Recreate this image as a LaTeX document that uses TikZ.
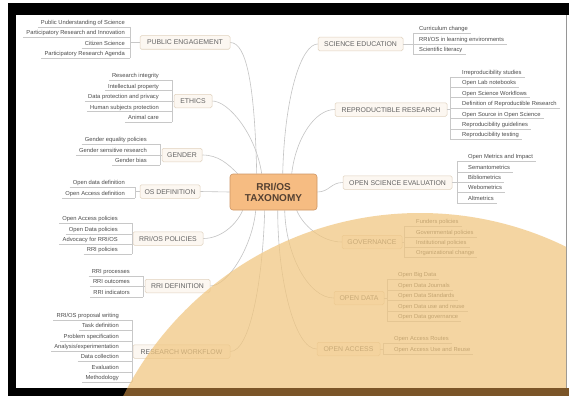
\documentclass[tikz,border=0pt]{standalone}
\usepackage{fontspec}
\setmainfont{Liberation Sans}
\usetikzlibrary{calc}
\pgfdeclarelayer{bg}
\pgfdeclarelayer{links}
\pgfdeclarelayer{top}
\pgfsetlayers{bg,links,main,top}

\definecolor{linkc}{RGB}{196,196,196}
\definecolor{ulc}{RGB}{200,200,200}
\definecolor{boxfill}{RGB}{252,247,241}
\definecolor{boxdraw}{RGB}{224,210,190}
\definecolor{boxtext}{RGB}{100,100,100}
\definecolor{leaftext}{RGB}{75,75,75}
\definecolor{corefill}{RGB}{246,188,130}
\definecolor{coredraw}{RGB}{206,150,100}
\definecolor{coretext}{RGB}{85,65,50}
\definecolor{disk}{RGB}{241,198,127}
\definecolor{band}{RGB}{123,85,40}
\definecolor{edgec}{RGB}{150,150,150}

\tikzset{
  leafl/.style={anchor=south east, inner sep=0pt, text height=4.4pt, text depth=2.2pt,
    font=\fontsize{5.8}{6}\selectfont, text=leaftext},
  leafr/.style={leafl, anchor=south west},
  ul/.style={draw=ulc, line width=0.5pt},
  link/.style={draw=linkc, line width=0.6pt},
  cat/.style={draw=boxdraw, fill=boxfill, rounded corners=1.5pt, line width=0.5pt,
    font=\fontsize{6.9}{7}\selectfont, text=boxtext, inner xsep=0pt, inner ysep=0pt,
    minimum height=13.5pt, text height=5pt, text depth=0pt},
  core/.style={draw=coredraw, fill=corefill, rounded corners=3pt, line width=0.6pt,
    font=\fontsize{10}{11}\selectfont\bfseries, text=coretext, align=center,
    minimum width=87pt, minimum height=36pt, inner sep=0pt}
}

\newcommand{\leafL}[5]{%
  \node[leafl] (#1) at (#2-#3,#4) {#5};
  \draw[ul] ($(#1.south west)+(-3,0)$) -- ($(#1.south east)+(#3,0)$);
}
\newcommand{\leafR}[5]{%
  \node[leafr] (#1) at (#2+#3,#4) {#5};
  \draw[ul] ($(#1.south west)+(-#3,0)$) -- ($(#1.south east)+(3,0)$);
}

\begin{document}
\begin{tikzpicture}[x=1pt,y=-1pt]
\useasboundingbox (0,0) rectangle (569,396);
\begin{pgfonlayer}{bg}
  \fill[white] (0,0) rectangle (569,396);
  \fill[black] (8,3) rectangle (569,15);
  \fill[black] (8,3) rectangle (16,396);
  \draw[edgec, line width=0.8pt] (566,15) -- (566,388);
\end{pgfonlayer}

% central node
\node[core] (c) at (273.5,192) {RRI/OS\\TAXONOMY};

% left categories
\node[cat, minimum width=90pt] (pe) at (185,42.5) {PUBLIC ENGAGEMENT};
\node[cat, minimum width=38pt] (et) at (193,101) {ETHICS};
\node[cat, minimum width=40pt] (ge) at (182,155) {GENDER};
\node[cat, minimum width=60pt] (od) at (170,191.5) {OS DEFINITION};
\node[cat, minimum width=70pt] (rp) at (168,238.5) {RRI/OS POLICIES};
\node[cat, minimum width=65pt] (rd) at (177.5,286) {RRI DEFINITION};
\node[cat, minimum width=97pt] (rw) at (181.5,351.5) {RESEARCH WORKFLOW};

% right categories
\node[cat, minimum width=85pt] (se) at (360.5,44) {SCIENCE EDUCATION};
\node[cat, minimum width=112pt] (rr) at (391,109.5) {REPRODUCTIBLE RESEARCH};
\node[cat, minimum width=109pt] (ev) at (397.5,182.5) {OPEN SCIENCE EVALUATION};
\node[cat, minimum width=60pt] (gv) at (372,242) {GOVERNANCE};
\node[cat, minimum width=50pt] (oda) at (359,298) {OPEN DATA};
\node[cat, minimum width=63pt] (oa) at (348.5,349) {OPEN ACCESS};

% left leaves
\leafL{pe1}{130}{5}{26.8}{Public Understanding of Science}
\leafL{pe2}{130}{5}{37.3}{Participatory Research and Innovation}
\leafL{pe3}{130}{5}{47.8}{Citizen Science}
\leafL{pe4}{130}{5}{58.3}{Participatory Research Agenda}

\leafL{et1}{172}{13}{80.3}{Research integrity}
\leafL{et2}{172}{13}{90.7}{Intellectual property}
\leafL{et3}{172}{13}{101.1}{Data protection and privacy}
\leafL{et4}{172}{13}{111.5}{Human subjects protection}
\leafL{et5}{172}{13}{121.9}{Animal care}

\leafL{ge1}{160}{13}{144.3}{Gender equality policies}
\leafL{ge2}{160}{13}{154.8}{Gender sensitive research}
\leafL{ge3}{160}{13}{165.3}{Gender bias}

\leafL{od1}{135}{10}{187.3}{Open data definition}
\leafL{od2}{135}{10}{198.3}{Open Access definition}

\leafL{rp1}{132}{14}{223.3}{Open Access policies}
\leafL{rp2}{132}{14}{233.8}{Open Data policies}
\leafL{rp3}{132}{14}{243.8}{Advocacy for RRI/OS}
\leafL{rp4}{132}{14}{254.3}{RRI policies}

\leafL{rd1}{143}{13}{276.3}{RRI processes}
\leafL{rd2}{143}{13}{286.3}{RRI outcomes}
\leafL{rd3}{143}{13}{297.3}{RRI indicators}

\leafL{rw1}{132}{13}{320.3}{RRI/OS proposal writing}
\leafL{rw2}{132}{13}{330.3}{Task definition}
\leafL{rw3}{132}{13}{340.8}{Problem specification}
\leafL{rw4}{132}{13}{351.3}{Analysis/experimentation}
\leafL{rw5}{132}{13}{361.3}{Data collection}
\leafL{rw6}{132}{13}{371.8}{Evaluation}
\leafL{rw7}{132}{13}{382.3}{Methodology}

% right leaves
\leafR{se1}{413}{6}{32.8}{Curriculum change}
\leafR{se2}{413}{6}{43.8}{RRI/OS in learning environments}
\leafR{se3}{413}{6}{54.3}{Scientific literacy}

\leafR{rr1}{450}{12}{76.8}{Irreproducibility studies}
\leafR{rr2}{450}{12}{87.2}{Open Lab notebooks}
\leafR{rr3}{450}{12}{97.6}{Open Science Workflows}
\leafR{rr4}{450}{12}{108}{Definition of Reproductible Research}
\leafR{rr5}{450}{12}{118.4}{Open Source in Open Science}
\leafR{rr6}{450}{12}{128.8}{Reproducibility guidelines}
\leafR{rr7}{450}{12}{139.2}{Reproducibility testing}

\leafR{ev1}{457}{11}{161.3}{Open Metrics and Impact}
\leafR{ev2}{457}{11}{171.8}{Semantometrics}
\leafR{ev3}{457}{11}{182.3}{Bibliometrics}
\leafR{ev4}{457}{11}{192.3}{Webometrics}
\leafR{ev5}{457}{11}{202.8}{Altmetrics}

\leafR{gv1}{404}{12}{226.3}{Funders policies}
\leafR{gv2}{404}{12}{236.8}{Governmental policies}
\leafR{gv3}{404}{12}{246.8}{Institutional policies}
\leafR{gv4}{404}{12}{257.3}{Organizational change}

\leafR{oda1}{387}{11}{279.3}{Open Big Data}
\leafR{oda2}{387}{11}{289.8}{Open Data Journals}
\leafR{oda3}{387}{11}{300.3}{Open Data Standards}
\leafR{oda4}{387}{11}{310.8}{Open Data use and reuse}
\leafR{oda5}{387}{11}{321.3}{Open Data governance}

\leafR{oa1}{383}{11}{343.3}{Open Access Routes}
\leafR{oa2}{383}{11}{354.3}{Open Access Use and Reuse}

% bracket points
\coordinate (peb) at (130,42.5);
\coordinate (etb) at (172,101);
\coordinate (geb) at (160,155);
\coordinate (odb) at (135,191.5);
\coordinate (rpb) at (132,238.5);
\coordinate (rdb) at (143,286);
\coordinate (rwb) at (132,351.5);
\coordinate (seb) at (413,44);
\coordinate (rrb) at (450,109.5);
\coordinate (evb) at (457,182.5);
\coordinate (gvb) at (404,242);
\coordinate (odab) at (387,298);
\coordinate (oab) at (383,349);

\foreach \b/\f/\l in {pe/pe1/pe4, et/et1/et5, ge/ge1/ge3, od/od1/od2, rp/rp1/rp4, rd/rd1/rd3, rw/rw1/rw7}{
  \draw[ul] (\b.west) -- (\b b);
  \draw[ul] (\b b |- \f.south) -- (\b b |- \l.south);
}
\foreach \b/\f/\l in {se/se1/se3, rr/rr1/rr7, ev/ev1/ev5, gv/gv1/gv4, oda/oda1/oda5, oa/oa1/oa2}{
  \draw[ul] (\b.east) -- (\b b);
  \draw[ul] (\b b |- \f.south) -- (\b b |- \l.south);
}

% connectors to the centre
\coordinate (kpe) at ($(c.north west)+(27,0)$);
\coordinate (ket) at ($(c.north west)+(32,0)$);
\coordinate (kge) at ($(c.north west)+(8,0)$);
\coordinate (krp) at ($(c.south west)+(13,0)$);
\coordinate (krd) at ($(c.south west)+(26,0)$);
\coordinate (krw) at ($(c.south west)+(35,0)$);
\coordinate (kse) at ($(c.north west)+(53,0)$);
\coordinate (krr) at ($(c.north west)+(62,0)$);
\coordinate (kgv) at ($(c.south west)+(67,0)$);
\coordinate (koda) at ($(c.south west)+(55,0)$);
\coordinate (koa) at ($(c.south west)+(48,0)$);
\begin{pgfonlayer}{links}
  \draw[link] (pe.east) .. controls +(16,0) and +(-2,-90) .. (kpe);
  \draw[link] (et.east) .. controls +(16,0) and +(-6,-40) .. (ket);
  \draw[link] (ge.east) .. controls +(16,0) and +(-10,-10) .. (kge);
  \draw[link] (od.east) -- (c.west);
  \draw[link] (rp.east) .. controls +(18,0) and +(-6,14) .. (krp);
  \draw[link] (rd.east) .. controls +(18,0) and +(-3,35) .. (krd);
  \draw[link] (rw.east) .. controls +(20,0) and +(-2,70) .. (krw);
  \draw[link] (se.west) .. controls +(-16,0) and +(2,-80) .. (kse);
  \draw[link] (rr.west) .. controls +(-20,0) and +(4,-35) .. (krr);
  \draw[link] (ev.west) .. controls +(-12,0) and +(12,0) .. (c.east);
  \draw[link] (gv.west) .. controls +(-20,0) and +(6,15) .. (kgv);
  \draw[link] (oda.west) .. controls +(-25,0) and +(1,45) .. (koda);
  \draw[link] (oa.west) .. controls +(-22,0) and +(0,70) .. (koa);
\end{pgfonlayer}

% overlay disk and bottom band
\begin{pgfonlayer}{top}
  \begin{scope}
    \clip (16,15) rectangle (566,388);
    \fill[disk, fill opacity=0.72] (420,545) circle[radius=332pt];
  \end{scope}
  \fill[black] (8,388) rectangle (569,396);
  \begin{scope}
    \clip (420,545) circle[radius=332pt];
    \fill[band] (16,388) rectangle (569,396);
  \end{scope}
\end{pgfonlayer}
\end{tikzpicture}
\end{document}
